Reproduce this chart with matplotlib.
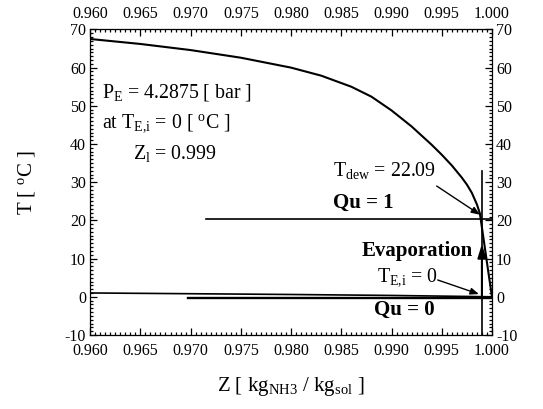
import matplotlib
matplotlib.use("Agg")
import matplotlib.pyplot as plt
from matplotlib.ticker import MultipleLocator, FormatStrFormatter

plt.rcParams['font.family'] = ['Liberation Serif', 'DejaVu Serif']
plt.rcParams['mathtext.fontset'] = 'custom'
plt.rcParams['mathtext.rm'] = 'Liberation Serif'
plt.rcParams['mathtext.it'] = 'Liberation Serif:italic'
plt.rcParams['mathtext.bf'] = 'Liberation Serif:bold'
plt.rcParams['axes.unicode_minus'] = False

# Dew curve (saturated vapour) at P_E
dew_z = [0.960, 0.965, 0.970, 0.975, 0.980, 0.983, 0.986, 0.988, 0.990, 0.992,
         0.994, 0.995, 0.996, 0.997, 0.9975, 0.998, 0.9985, 0.9988, 0.9992,
         0.9996, 1.000]
dew_T = [67.5, 66.2, 64.6, 62.6, 60.0, 57.9, 55.0, 52.4, 48.8, 44.6,
         39.8, 37.2, 34.4, 31.2, 29.4, 27.2, 24.2, 21.8, 14.5,
         7.2, 0.0]

# Bubble curve (saturated liquid)
bub_z = [0.960, 0.970, 0.980, 0.990, 1.000]
bub_T = [1.0, 0.8, 0.6, 0.35, 0.0]

# Isotherm / reference lines
qu1_z = [0.9715, 1.000]
qu1_T = [20.3, 20.3]
qu0_z = [0.9697, 1.000]
qu0_T = [-0.2, -0.2]
zl_line_z = [0.999, 0.999]
zl_line_T = [-10, 33]

x_ticks = [0.960, 0.965, 0.970, 0.975, 0.980, 0.985, 0.990, 0.995, 1.000]
y_ticks = [-10, 0, 10, 20, 30, 40, 50, 60, 70]

fig = plt.figure(figsize=(5.43, 4.09), dpi=100)
ax = fig.add_axes([0.166, 0.181, 0.74, 0.747])

ax.plot(dew_z, dew_T, color='black', lw=1.5)
ax.plot(bub_z, bub_T, color='black', lw=1.2)
ax.plot(qu1_z, qu1_T, color='black', lw=1.2)
ax.plot(qu0_z, qu0_T, color='black', lw=1.7)
ax.plot(zl_line_z, zl_line_T, color='black', lw=1.2)

# Evaporation arrow
ax.annotate('', xy=(0.999, 13.8), xytext=(0.999, 0.0),
            arrowprops=dict(arrowstyle='-|>,head_length=0.8,head_width=0.25',
                            color='black', lw=1.5, shrinkA=0, shrinkB=0))

ax.set_xlim(0.960, 1.000)
ax.set_ylim(-10, 70)
ax.set_xticks(x_ticks)
ax.set_yticks(y_ticks)
ax.xaxis.set_major_formatter(FormatStrFormatter('%.3f'))
ax.xaxis.set_minor_locator(MultipleLocator(0.0005))
ax.yaxis.set_minor_locator(MultipleLocator(1))
ax.tick_params(which='both', direction='in', top=True, right=True,
               labeltop=True, labelright=True, labelsize=11.5, width=0.9)
ax.tick_params(which='major', length=5)
ax.tick_params(which='minor', length=2.5)
ax.tick_params(axis='x', which='major', pad=5.5)
ax.tick_params(axis='y', which='major', pad=3)
for s in ax.spines.values():
    s.set_linewidth(0.9)

fs = 14.3
fb = 15
ax.text(0.9612, 53.5, r'$\mathrm{P_E}$ = 4.2875 [ bar ]', fontsize=fs, va='center')
ax.text(0.9612, 45.5, r'at $\mathrm{T_{E{,}i}}$ = 0 [ $^{\mathrm{o}}$C ]', fontsize=fs, va='center')
ax.text(0.9643, 37.5, r'$\mathrm{Z_l}$ = 0.999', fontsize=fs, va='center')

ax.text(0.9842, 33.0, r'$\mathrm{T_{dew}}$ = 22.09', fontsize=fs, va='center')
ax.annotate('', xy=(0.9988, 21.5), xytext=(0.9945, 29.0),
            arrowprops=dict(arrowstyle='-|>,head_length=0.5,head_width=0.2',
                            color='black', lw=1.0, shrinkA=0, shrinkB=0))
ax.text(0.9872, 24.5, 'Qu = 1', fontsize=fb, fontweight='bold', ha='center', va='center')
ax.text(0.9981, 12.0, 'Evaporation', fontsize=fb, fontweight='bold', ha='right', va='center')
ax.text(0.9886, 5.2, r'$\mathrm{T_{E{,}i}}$ = 0', fontsize=fs, va='center')
ax.annotate('', xy=(0.9987, 0.7), xytext=(0.9946, 4.4),
            arrowprops=dict(arrowstyle='-|>,head_length=0.5,head_width=0.2',
                            color='black', lw=1.0, shrinkA=0, shrinkB=0))
ax.text(0.9913, -3.4, 'Qu = 0', fontsize=fb, fontweight='bold', ha='center', va='center')

ax.set_xlabel(r'Z [ $\mathrm{kg_{NH3}}$ / $\mathrm{kg_{sol}}$ ]', fontsize=15, labelpad=12)
ax.set_ylabel(r'T [ $^{\mathrm{o}}$C ]', fontsize=15, labelpad=20)

fig.savefig('out.png', dpi=100)
